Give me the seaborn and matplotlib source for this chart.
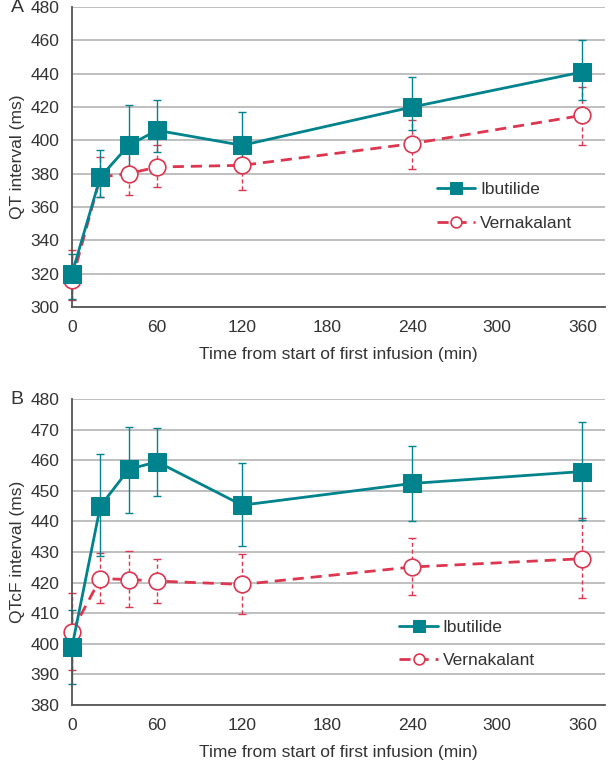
import numpy as np
import pandas as pd
import matplotlib
matplotlib.use("Agg")
import matplotlib.pyplot as plt
import seaborn as sns

sns.set_style("white")
plt.rcParams['font.family'] = ['Liberation Sans', 'DejaVu Sans']

# 시간축 (분)
time_min = [0, 20, 40, 60, 120, 240, 360]
x_ticks = [0, 60, 120, 180, 240, 300, 360]

# A: QT interval (ms)
qt_ibu = [320, 378, 397, 406, 397, 420, 441]
qt_ibu_hi = [332, 394, 421, 424, 417, 438, 460]
qt_ibu_lo = [305, 366, 380, 393, 386, 406, 424]
qt_ver = [316, 378, 380, 384, 385, 398, 415]
qt_ver_hi = [334, 390, 393, 397, 400, 412, 432]
qt_ver_lo = [304, 366, 367, 372, 370, 383, 397]

# B: QTcF interval (ms)
qtcf_ibu = [399, 445, 457, 459.5, 445.3, 452.4, 456.3]
qtcf_ibu_hi = [411, 462, 471, 470.5, 459, 464.6, 472.5]
qtcf_ibu_lo = [387, 428.6, 442.8, 448.2, 432, 440, 440.4]
qtcf_ver = [404, 421.3, 421, 420.5, 419.4, 425.1, 427.8]
qtcf_ver_hi = [416.7, 429.6, 430.2, 427.6, 429.2, 434.6, 441.1]
qtcf_ver_lo = [391.6, 413.3, 412, 413.3, 409.8, 416, 415]

TEAL = '#00838c'
RED = '#dc3650'
TXT = '#333333'


def draw_panel(ax, ibu, ibu_hi, ibu_lo, ver, ver_hi, ver_lo, ylim, yticks, ylabel, letter, leg_pos):
    t = np.array(time_min)
    # 오차막대
    eb = ax.errorbar(t, ver, yerr=[np.array(ver) - np.array(ver_lo), np.array(ver_hi) - np.array(ver)],
                     fmt='none', ecolor=RED, elinewidth=1.0, capsize=3, capthick=1.0, zorder=2, clip_on=False)
    eb[2][0].set_linestyle((0, (3, 2)))
    ax.errorbar(t, ibu, yerr=[np.array(ibu) - np.array(ibu_lo), np.array(ibu_hi) - np.array(ibu)],
                fmt='none', ecolor=TEAL, elinewidth=1.0, capsize=3, capthick=1.0, zorder=2, clip_on=False)

    df_v = pd.DataFrame({'time': time_min, 'val': ver})
    df_i = pd.DataFrame({'time': time_min, 'val': ibu})
    sns.lineplot(data=df_v, x='time', y='val', ax=ax, color=RED, linestyle=(0, (4, 2.5)), lw=2,
                 marker='o', markersize=12, markerfacecolor='white', markeredgecolor=RED,
                 markeredgewidth=1.2, label='Vernakalant', zorder=3, clip_on=False)
    sns.lineplot(data=df_i, x='time', y='val', ax=ax, color=TEAL, lw=2,
                 marker='s', markersize=12.5, markerfacecolor=TEAL, markeredgecolor=TEAL,
                 label='Ibutilide', zorder=4, clip_on=False)

    ax.set_xlim(0, 376)
    ax.set_ylim(*ylim)
    ax.set_xticks(x_ticks)
    ax.set_yticks(yticks)
    ax.yaxis.grid(True, color='#b4b4b4', lw=1.2)
    ax.xaxis.grid(False)
    ax.set_axisbelow(True)
    for s in ['top', 'right']:
        ax.spines[s].set_visible(False)
    for s in ['left', 'bottom']:
        ax.spines[s].set_color('#555555')
        ax.spines[s].set_linewidth(1.3)
    ax.tick_params(axis='both', direction='out', length=5, width=1.2, color='#555555',
                   labelsize=12.5, labelcolor=TXT, pad=4)
    ax.set_xlabel('Time from start of first infusion (min)', fontsize=12.5, color=TXT, labelpad=9)
    ax.set_ylabel(ylabel, fontsize=12.5, color=TXT, labelpad=4)
    ax.text(-0.115, 1.0, letter, transform=ax.transAxes, fontsize=14, color=TXT, va='center', ha='left')

    h, l = ax.get_legend_handles_labels()
    order = [l.index('Ibutilide'), l.index('Vernakalant')]
    ax.legend([h[i] for i in order], [l[i] for i in order], loc='center left',
              bbox_to_anchor=leg_pos, frameon=False, fontsize=12.5, markerscale=0.65,
              handlelength=2.2, handletextpad=0.3, labelspacing=1.05, labelcolor=TXT)


fig = plt.figure(figsize=(6.1, 7.63), dpi=100)
axA = fig.add_axes([72 / 610, 1 - 307 / 763, 533 / 610, 300 / 763])
axB = fig.add_axes([72 / 610, 1 - 705 / 763, 533 / 610, 306 / 763])

draw_panel(axA, qt_ibu, qt_ibu_hi, qt_ibu_lo, qt_ver, qt_ver_hi, qt_ver_lo,
           (300, 480), list(range(300, 481, 20)), 'QT interval (ms)', 'A', (0.655, 0.335))
draw_panel(axB, qtcf_ibu, qtcf_ibu_hi, qtcf_ibu_lo, qtcf_ver, qtcf_ver_hi, qtcf_ver_lo,
           (380, 480), list(range(380, 481, 10)), 'QTcF interval (ms)', 'B', (0.585, 0.2))

fig.savefig('out.png', dpi=100)
